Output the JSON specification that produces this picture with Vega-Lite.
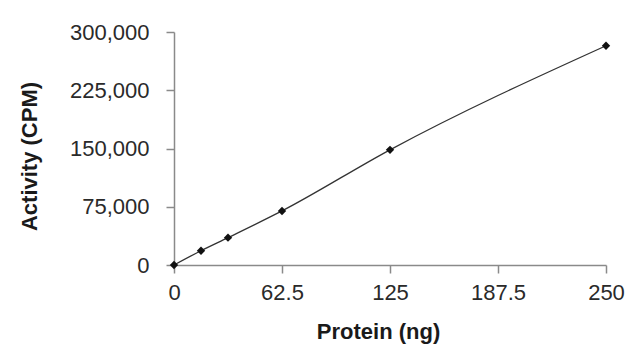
{
  "$schema": "https://vega.github.io/schema/vega-lite/v6.json",
  "width": 432,
  "height": 233,
  "autosize": {"type": "none"},
  "padding": {"left": 174, "top": 32, "right": 34, "bottom": 94},
  "background": "white",
  "config": {
    "view": {"stroke": null},
    "axis": {
      "grid": false,
      "domainColor": "#8a8a8a",
      "tickColor": "#8a8a8a",
      "domainWidth": 1.5,
      "tickWidth": 1.5,
      "tickSize": 8,
      "labelFont": "Liberation Sans",
      "labelFontSize": 22,
      "labelColor": "#2a2a2a",
      "titleFont": "Liberation Sans",
      "titleFontSize": 22,
      "titleFontWeight": "bold",
      "titleColor": "#1a1a1a"
    }
  },
  "data": {
    "values": [
      {"protein": 0, "activity": 0},
      {"protein": 15.625, "activity": 18400},
      {"protein": 31.25, "activity": 35200},
      {"protein": 62.5, "activity": 69600},
      {"protein": 125, "activity": 148300},
      {"protein": 250, "activity": 282300}
    ]
  },
  "encoding": {
    "x": {
      "field": "protein",
      "type": "quantitative",
      "title": "Protein (ng)",
      "scale": {"domain": [0, 250], "nice": false, "zero": true},
      "axis": {
        "values": [0, 62.5, 125, 187.5, 250],
        "format": ".1~f",
        "labelPadding": 9,
        "titlePadding": 18,
        "titleX": 204,
        "labelFlush": false,
        "labelOverlap": false
      }
    },
    "y": {
      "field": "activity",
      "type": "quantitative",
      "title": "Activity (CPM)",
      "scale": {"domain": [0, 300000], "nice": false},
      "axis": {
        "values": [0, 75000, 150000, 225000, 300000],
        "format": ",.0f",
        "labelPadding": 17,
        "titlePadding": 28,
        "titleY": 124,
        "labelFlush": false,
        "labelOverlap": false
      }
    }
  },
  "layer": [
    {
      "mark": {"type": "line", "interpolate": "monotone", "color": "#333333", "strokeWidth": 1.3}
    },
    {
      "mark": {"type": "point", "shape": "diamond", "filled": true, "color": "#111111", "size": 70, "opacity": 1}
    }
  ]
}
